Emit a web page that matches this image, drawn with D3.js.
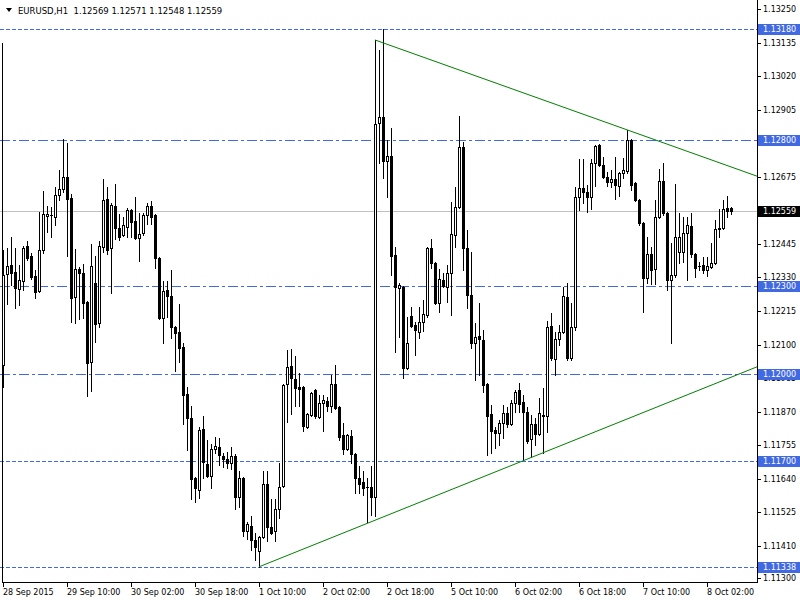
<!DOCTYPE html>
<html><head><meta charset="utf-8">
<script src="https://cdn.jsdelivr.net/npm/d3@7"></script>
<style>
body{margin:0;background:#fff}
svg{display:block}
text{font-family:"DejaVu Sans",sans-serif;font-size:8px}
line{shape-rendering:crispEdges}
</style>
</head><body>
<svg id="c" width="800" height="600"></svg>
<script>
const symbolTitle = "EURUSD,H1";
const lastBar = [1.12569, 1.12571, 1.12548, 1.12559];

const opens = [
1.12030,1.12342,1.12373,1.12349,1.12291,1.12318,1.12438,1.12404,1.12335,1.12284,
1.12424,1.12541,1.12544,1.12537,1.12613,1.12633,1.12674,1.12603,1.12263,1.12359,
1.12345,1.12246,1.12040,1.12311,1.12174,1.12435,1.12599,1.12431,1.12575,1.12500,
1.12476,1.12503,1.12561,1.12524,1.12465,1.12482,1.12544,1.12575,1.12544,1.12397,
1.12191,1.12287,1.12267,1.12160,1.12143,1.12092,1.11931,1.11849,1.11643,1.11602,
1.11811,1.11691,1.11650,1.11742,1.11749,1.11718,1.11708,1.11694,1.11718,1.11578,
1.11643,1.11461,1.11478,1.11430,1.11393,1.11441,1.11622,1.11475,1.11461,1.11537,
1.11615,1.11965,1.12027,1.11982,1.11955,1.11955,1.11818,1.11859,1.11944,1.11852,
1.11900,1.11907,1.11890,1.11965,1.11886,1.11790,1.11742,1.11787,1.11725,1.11643,
1.11629,1.11612,1.11612,1.11578,1.12860,1.12880,1.12729,1.12746,1.12407,1.12294,
1.12298,1.12020,1.12198,1.12167,1.12143,1.12178,1.12201,1.12431,1.12380,1.12243,
1.12321,1.12298,1.12345,1.12476,1.12572,1.12777,1.12431,1.12270,1.12105,1.12130,
1.12116,1.11965,1.11862,1.11807,1.11797,1.11831,1.11866,1.11828,1.11900,1.11944,
1.11903,1.11869,1.11776,1.11828,1.11794,1.11859,1.11855,1.12164,1.12051,1.12119,
1.12143,1.12263,1.12054,1.12160,1.12606,1.12637,1.12623,1.12606,1.12722,1.12784,
1.12716,1.12674,1.12657,1.12668,1.12644,1.12688,1.12695,1.12801,1.12654,1.12596,
1.12517,1.12328,1.12411,1.12359,1.12537,1.12661,1.12551,1.12321,1.12339,1.12417,
1.12417,1.12482,1.12506,1.12411,1.12370,1.12373,1.12356,1.12366,1.12380,1.12496,
1.12500,1.12568,1.12569];
const highs = [
1.12424,1.12431,1.12469,1.12431,1.12373,1.12438,1.12455,1.12414,1.12356,1.12554,
1.12626,1.12575,1.12572,1.12640,1.12698,1.12805,1.12791,1.12616,1.12428,1.12366,
1.12376,1.12250,1.12445,1.12404,1.12455,1.12668,1.12640,1.12585,1.12650,1.12548,
1.12537,1.12568,1.12565,1.12606,1.12551,1.12551,1.12585,1.12592,1.12548,1.12400,
1.12318,1.12318,1.12356,1.12163,1.12239,1.12105,1.11955,1.11890,1.11646,1.11818,
1.11855,1.11773,1.11759,1.11783,1.11780,1.11729,1.11732,1.11749,1.11725,1.11667,
1.11646,1.11492,1.11513,1.11454,1.11445,1.11667,1.11667,1.11571,1.11571,1.11694,
1.11965,1.12081,1.12085,1.12061,1.12003,1.11958,1.11865,1.11937,1.11947,1.11927,
1.11927,1.11920,1.11996,1.12030,1.11889,1.11831,1.11795,1.11807,1.11728,1.11684,
1.11667,1.11643,1.11684,1.13144,1.13110,1.13180,1.12801,1.12842,1.12435,1.12311,
1.12301,1.12195,1.12229,1.12178,1.12229,1.12253,1.12434,1.12462,1.12383,1.12359,
1.12345,1.12373,1.12589,1.12640,1.12884,1.12794,1.12493,1.12417,1.12174,1.12243,
1.12150,1.11968,1.11893,1.11818,1.11842,1.11893,1.11886,1.11910,1.11944,1.11968,
1.11927,1.11886,1.11859,1.11849,1.11917,1.11951,1.12181,1.12208,1.12143,1.12167,
1.12298,1.12311,1.12243,1.12640,1.12736,1.12736,1.12647,1.12736,1.12784,1.12787,
1.12743,1.12692,1.12698,1.12743,1.12691,1.12740,1.12836,1.12805,1.12657,1.12599,
1.12520,1.12469,1.12435,1.12596,1.12702,1.12722,1.12555,1.12448,1.12650,1.12551,
1.12537,1.12537,1.12551,1.12414,1.12383,1.12400,1.12400,1.12448,1.12527,1.12565,
1.12596,1.12609,1.12571];
const lows = [
1.11955,1.12239,1.12304,1.12225,1.12236,1.12287,1.12390,1.12325,1.12260,1.12280,
1.12414,1.12486,1.12469,1.12510,1.12596,1.12623,1.12404,1.12178,1.12174,1.12188,
1.12191,1.11924,1.11941,1.12109,1.12160,1.12417,1.12411,1.12277,1.12462,1.12458,
1.12472,1.12469,1.12469,1.12462,1.12387,1.12476,1.12513,1.12513,1.12363,1.12188,
1.12105,1.12195,1.12123,1.12010,1.12040,1.11828,1.11739,1.11571,1.11561,1.11574,
1.11643,1.11646,1.11609,1.11729,1.11687,1.11681,1.11677,1.11674,1.11537,1.11543,
1.11444,1.11434,1.11396,1.11362,1.11338,1.11438,1.11427,1.11451,1.11427,1.11506,
1.11612,1.11835,1.11862,1.11890,1.11890,1.11804,1.11814,1.11855,1.11849,1.11849,
1.11804,1.11872,1.11869,1.11879,1.11773,1.11725,1.11738,1.11694,1.11591,1.11591,
1.11585,1.11492,1.11516,1.11513,1.12722,1.12671,1.12606,1.12339,1.12075,1.12126,
1.11986,1.12017,1.12161,1.12064,1.12123,1.12147,1.12195,1.12363,1.12240,1.12212,
1.12298,1.12246,1.12201,1.12435,1.12568,1.12356,1.12225,1.12088,1.11979,1.11996,
1.11938,1.11722,1.11729,1.11746,1.11756,1.11780,1.11818,1.11824,1.11869,1.11869,
1.11705,1.11763,1.11715,1.11756,1.11790,1.11729,1.11800,1.12047,1.11996,1.12099,
1.12140,1.12047,1.12047,1.12150,1.12561,1.12585,1.12554,1.12565,1.12644,1.12712,
1.12671,1.12644,1.12640,1.12599,1.12609,1.12671,1.12688,1.12630,1.12592,1.12510,
1.12212,1.12311,1.12308,1.12308,1.12533,1.12544,1.12287,1.12105,1.12332,1.12380,
1.12383,1.12321,1.12400,1.12332,1.12356,1.12345,1.12335,1.12363,1.12376,1.12469,
1.12496,1.12537,1.12548];
const closes = [
1.12339,1.12369,1.12345,1.12294,1.12321,1.12431,1.12397,1.12332,1.12280,1.12424,
1.12548,1.12548,1.12545,1.12613,1.12633,1.12674,1.12599,1.12260,1.12359,1.12345,
1.12243,1.12037,1.12369,1.12171,1.12438,1.12596,1.12424,1.12578,1.12500,1.12469,
1.12510,1.12561,1.12520,1.12465,1.12479,1.12544,1.12575,1.12537,1.12397,1.12191,
1.12284,1.12267,1.12160,1.12140,1.12088,1.11927,1.11849,1.11640,1.11609,1.11807,
1.11698,1.11650,1.11742,1.11753,1.11722,1.11708,1.11694,1.11718,1.11578,1.11643,
1.11461,1.11485,1.11430,1.11406,1.11441,1.11622,1.11475,1.11454,1.11537,1.11612,
1.11962,1.12023,1.11986,1.11951,1.11948,1.11821,1.11862,1.11934,1.11855,1.11900,
1.11910,1.11890,1.11965,1.11883,1.11783,1.11742,1.11790,1.11725,1.11643,1.11622,
1.11609,1.11610,1.11578,1.12856,1.12880,1.12729,1.12746,1.12404,1.12298,1.12304,
1.12020,1.12105,1.12164,1.12150,1.12178,1.12205,1.12431,1.12380,1.12243,1.12325,
1.12301,1.12345,1.12479,1.12572,1.12777,1.12431,1.12270,1.12105,1.12126,1.12119,
1.11962,1.11855,1.11804,1.11797,1.11831,1.11866,1.11828,1.11900,1.11938,1.11897,
1.11869,1.11770,1.11828,1.11794,1.11866,1.11855,1.12160,1.12054,1.12119,1.12143,
1.12267,1.12054,1.12160,1.12606,1.12637,1.12623,1.12606,1.12722,1.12781,1.12716,
1.12674,1.12657,1.12668,1.12647,1.12688,1.12698,1.12801,1.12647,1.12596,1.12517,
1.12328,1.12411,1.12356,1.12537,1.12661,1.12551,1.12321,1.12339,1.12469,1.12469,
1.12482,1.12510,1.12411,1.12363,1.12368,1.12356,1.12369,1.12380,1.12496,1.12500,
1.12565,1.12558,1.12559];

// time axis labels, one every 16 H1 bars starting at bar 0
const timeLabels = ["28 Sep 2015","29 Sep 10:00","30 Sep 02:00","30 Sep 18:00","1 Oct 10:00",
  "2 Oct 02:00","2 Oct 18:00","5 Oct 10:00","6 Oct 02:00","6 Oct 18:00","7 Oct 10:00","8 Oct 02:00"];
const priceTicks = [1.13250,1.13135,1.13020,1.12905,1.12790,1.12675,1.12560,1.12445,1.12330,
  1.12215,1.12100,1.11985,1.11870,1.11755,1.11640,1.11525,1.11410,1.11300];
const levelPrices = [1.13180, 1.12800, 1.12300, 1.12000, 1.11700, 1.11338];
const upperTrend = [[93, 1.13144], [156, 1.12836]];
const lowerTrend = [[64, 1.11338], [135, 1.11729]];

const W = 800, H = 600, plotR = 757, plotB = 582;
const svg = d3.select("#c");
const n = opens.length;
const x = d3.scaleLinear().domain([0, n - 1]).range([3, 3 + 4 * (n - 1)]);
const y = d3.scaleLinear().domain([1.11286, 1.13281]).range([plotB, 0]);
const blue = "#4169e1";

svg.append("rect").attr("width", W).attr("height", H).attr("fill", "#fff");
svg.append("defs").append("clipPath").attr("id", "clip")
  .append("rect").attr("x", 0).attr("y", 0).attr("width", plotR).attr("height", plotB);
const plot = svg.append("g").attr("clip-path", "url(#clip)");

// current price line
const yLast = Math.round(y(closes[n - 1])) + 0.5;
plot.append("line").attr("x1", 0).attr("x2", plotR).attr("y1", yLast).attr("y2", yLast)
  .attr("stroke", "#c0c0c0").attr("stroke-width", 1);

// horizontal levels
const dotted = [true, false, false, false, true, true];
levelPrices.forEach((p, k) => {
  const yy = Math.round(y(p)) + 0.5;
  plot.append("line").attr("x1", 0).attr("x2", plotR).attr("y1", yy).attr("y2", yy)
    .attr("stroke", blue).attr("stroke-width", 1)
    .attr("stroke-dasharray", dotted[k] ? "4,2" : "10,3,3,3");
});

// candles
const g = plot.append("g");
for (let i = 0; i < n; i++) {
  const cx = Math.round(x(i));
  const o = Math.round(y(opens[i])), c = Math.round(y(closes[i]));
  const h = Math.round(y(highs[i])), l = Math.round(y(lows[i]));
  g.append("line").attr("x1", cx + 0.5).attr("x2", cx + 0.5).attr("y1", h).attr("y2", l + 1)
    .attr("stroke", "#000").attr("stroke-width", 1);
  if (closes[i] >= opens[i]) {
    if (o - c < 1) {
      g.append("line").attr("x1", cx - 1).attr("x2", cx + 2).attr("y1", c + 0.5).attr("y2", c + 0.5)
        .attr("stroke", "#000");
    } else {
      g.append("rect").attr("x", cx - 0.5).attr("y", c + 0.5).attr("width", 2).attr("height", o - c)
        .attr("fill", "#fff").attr("stroke", "#000").attr("stroke-width", 1);
    }
  } else {
    g.append("rect").attr("x", cx - 1).attr("y", o).attr("width", 3).attr("height", Math.max(1, c - o + 1))
      .attr("fill", "#000");
  }
}

// trend lines (extended to the right edge)
function trend(pts) {
  const [[i1, p1], [i2, p2]] = pts;
  const x1 = x(i1), y1 = y(p1), x2 = x(i2), y2 = y(p2);
  const xe = plotR, ye = y1 + (y2 - y1) * (xe - x1) / (x2 - x1);
  plot.append("line").attr("x1", x1).attr("y1", y1).attr("x2", xe).attr("y2", ye)
    .attr("stroke", "#008000").attr("stroke-width", 1).style("shape-rendering", "auto");
}
trend(upperTrend);
trend(lowerTrend);

// frame / axes
svg.append("line").attr("x1", 2.5).attr("x2", 2.5).attr("y1", 43).attr("y2", plotB + 1).attr("stroke", "#000");
svg.append("line").attr("x1", plotR + 0.5).attr("x2", plotR + 0.5).attr("y1", 0).attr("y2", plotB + 1).attr("stroke", "#000");
svg.append("line").attr("x1", 2).attr("x2", plotR + 1).attr("y1", plotB + 0.5).attr("y2", plotB + 0.5).attr("stroke", "#000");

// time axis
const tAxis = svg.append("g");
timeLabels.forEach((lab, k) => {
  const tx = Math.round(x(k * 16));
  tAxis.append("line").attr("x1", tx + 0.5).attr("x2", tx + 0.5).attr("y1", plotB + 1).attr("y2", plotB + 5)
    .attr("stroke", "#000");
  tAxis.append("text").attr("x", tx).attr("y", 595).attr("fill", "#000").text(lab);
});

// price axis
const pAxis = svg.append("g");
priceTicks.forEach(p => {
  const ty = Math.round(y(p)) + 0.5;
  pAxis.append("line").attr("x1", plotR + 1).attr("x2", plotR + 4).attr("y1", ty).attr("y2", ty).attr("stroke", "#000");
  pAxis.append("text").attr("x", 763).attr("y", ty).attr("dy", "0.35em").attr("fill", "#000").text(p.toFixed(5));
});
function tag(p, fill) {
  const ty = Math.round(y(p));
  pAxis.append("rect").attr("x", 758).attr("y", ty - 5).attr("width", 42).attr("height", 11).attr("fill", fill);
  pAxis.append("text").attr("x", 763).attr("y", ty + 0.5).attr("dy", "0.35em").attr("fill", "#fff").text(p.toFixed(5));
}
levelPrices.forEach(p => tag(p, blue));
tag(closes[n - 1], "#000");

// header
svg.append("path").attr("d", "M6,8 L12,8 L9,12 Z").attr("fill", "#000");
svg.append("text").attr("x", 18).attr("y", 14).attr("fill", "#000").style("font-size", "8.5px")
  .attr("xml:space", "preserve")
  .text(symbolTitle + "  " + lastBar.map(v => v.toFixed(5)).join(" "));
</script>
</body></html>
